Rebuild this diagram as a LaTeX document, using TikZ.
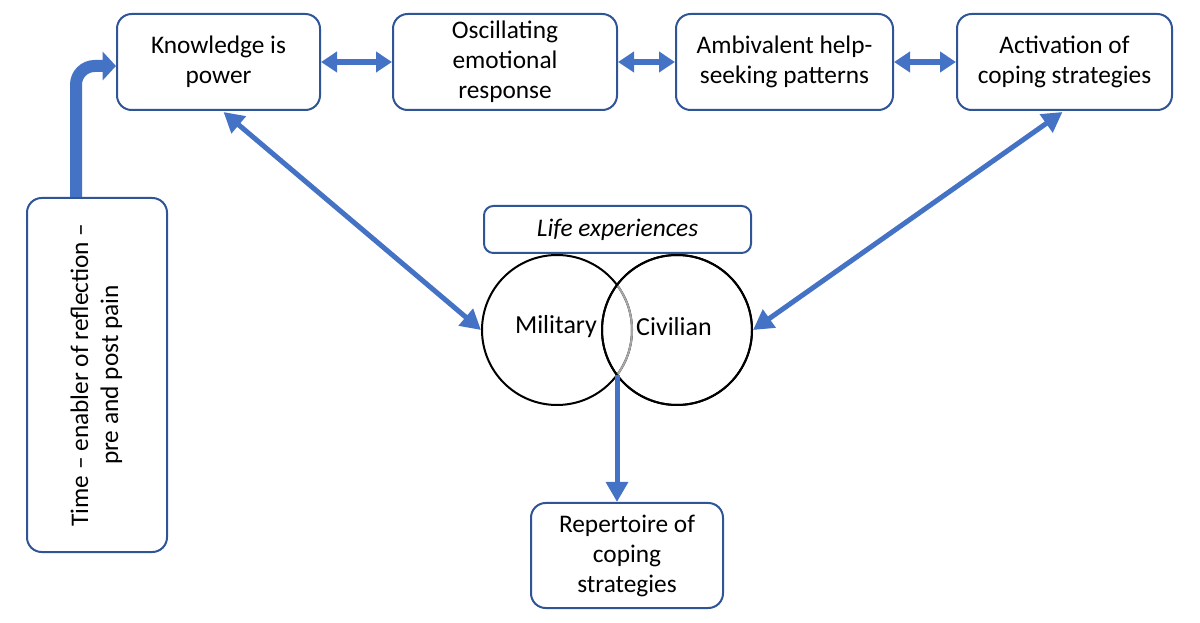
\documentclass[tikz,border=0pt]{standalone}
\usepackage{fontspec}
\setmainfont{Carlito}
\usetikzlibrary{arrows.meta,calc}
\definecolor{arrowblue}{HTML}{4472C4}
\definecolor{boxblue}{HTML}{2F5597}
\begin{document}
\begin{tikzpicture}[x=0.75pt,y=-0.75pt,
  box/.style={draw=boxblue, line width=1.5pt, rounded corners=11pt, align=center,
    font=\fontsize{19}{22.5}\selectfont, inner sep=2pt, fill=white},
  dbl/.style={draw=arrowblue, line width=4.5pt,
    {Triangle[length=12pt,width=15pt]}-{Triangle[length=12pt,width=15pt]}},
  diag/.style={draw=arrowblue, line width=3.75pt,
    {Triangle[length=15pt,width=16pt]}-{Triangle[length=15pt,width=16pt]}},
  down/.style={draw=arrowblue, line width=3.75pt, -{Triangle[length=15pt,width=16pt]}},
  venn/.style={circle, draw=black, line width=1.5pt, minimum size=112.5pt, inner sep=0pt},
  venntext/.style={font=\fontsize{19.5}{22.5}\selectfont}
]
\useasboundingbox (0,0) rectangle (1200,623);

% top boxes
\node[box, minimum width=152.25pt, minimum height=72pt] (know) at (218.5,62) {Knowledge is\\power};
\node[box, minimum width=168pt, minimum height=72pt] (osc) at (505,62) {Oscillating\\emotional\\response};
\node[box, minimum width=162.75pt, minimum height=72pt] (amb) at (784.5,62) {Ambivalent help-\\seeking patterns};
\node[box, minimum width=161.25pt, minimum height=72pt] (act) at (1064.5,62) {Activation of\\coping strategies};

% time box
\node[box, minimum width=105pt, minimum height=265.5pt] (time) at (97,375)
  {\rotatebox{90}{\begin{tabular}{@{}c@{}}Time – enabler of reflection –\\pre and post pain\end{tabular}}};

% life experiences
\node[box, rounded corners=7pt, minimum width=200.25pt, minimum height=35.25pt] (life) at (617.5,229.5)
  {\itshape Life experiences};

% venn circles
\node[venn] (mil) at (557,330) {};
\node[venn] (civ) at (677,330) {};
\begin{scope}
  \clip (civ.center) circle (75);
  \draw[gray!70, line width=1.5pt] (mil.center) circle (75);
\end{scope}
\draw[black, line width=1.5pt] (civ.center) circle (75);
\node[venntext] (miltext) at (556,327) {Military};
\node[venntext] (civtext) at (674,327) {Civilian};
\coordinate (isect) at (617,375);

% repertoire
\node[box, minimum width=144pt, minimum height=78.75pt] (rep) at (627,555.5) {Repertoire of\\coping\\strategies};

% arrows between top boxes
\draw[dbl] (know.east) -- (osc.west);
\draw[dbl] (osc.east) -- (amb.west);
\draw[dbl] (amb.east) -- (act.west);

% diagonal arrows
\coordinate (kb) at ($(know.south)+(5,1)$);
\coordinate (ab) at ($(act.south)+(-2,1)$);
\draw[diag] (kb) -- (mil.west);
\draw[diag] (ab) -- (civ.east);

% down arrow
\draw[down] (isect) -- (isect |- rep.north);

% time arrow
\coordinate (tk) at ($(know.west)+(0,4)$);
\draw[draw=arrowblue, line width=9pt, rounded corners=14pt, -{Triangle[length=10pt,width=21pt]}]
  (time.north -| 76,0) |- (tk);
\end{tikzpicture}
\end{document}
